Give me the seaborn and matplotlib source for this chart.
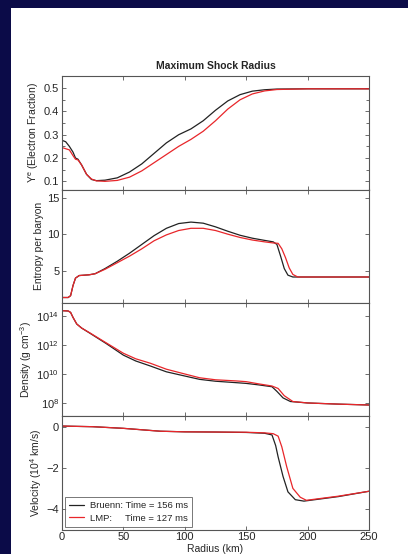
import numpy as np
import matplotlib
matplotlib.use("Agg")
import matplotlib.pyplot as plt
from matplotlib.patches import Rectangle
from matplotlib.ticker import MultipleLocator, NullLocator
import seaborn as sns

# ─── Data ───────────────────────────────────────────────────────────────────
# Electron fraction
ye_r_bruenn = [0, 3, 6, 9, 11, 13, 16, 20, 24, 28, 35, 45, 55, 65, 75, 85, 95,
               105, 115, 125, 135, 145, 155, 165, 175, 200, 250]
ye_bruenn = [0.276, 0.27, 0.25, 0.225, 0.2, 0.195, 0.17, 0.13, 0.108, 0.103,
             0.105, 0.115, 0.14, 0.175, 0.22, 0.265, 0.30, 0.325, 0.36, 0.405,
             0.445, 0.472, 0.487, 0.493, 0.496, 0.497, 0.497]
ye_r_lmp = [0, 3, 6, 9, 11, 13, 16, 20, 24, 28, 35, 45, 55, 65, 75, 85, 95,
            105, 115, 125, 135, 145, 155, 165, 175, 200, 250]
ye_lmp = [0.245, 0.24, 0.235, 0.21, 0.195, 0.192, 0.17, 0.13, 0.11, 0.102,
          0.10, 0.104, 0.118, 0.145, 0.18, 0.215, 0.25, 0.28, 0.315, 0.36,
          0.41, 0.45, 0.475, 0.488, 0.494, 0.497, 0.497]

# Entropy per baryon
s_r_bruenn = [0, 5, 7, 9, 11, 14, 18, 22, 27, 35, 45, 55, 65, 75, 85, 95, 105,
              115, 125, 135, 145, 155, 165, 172, 175, 178, 181, 184, 188, 200, 250]
s_bruenn = [1.35, 1.35, 1.6, 3.0, 4.0, 4.35, 4.4, 4.45, 4.6, 5.3, 6.3, 7.4, 8.6,
            9.8, 10.8, 11.45, 11.65, 11.5, 11.0, 10.4, 9.85, 9.45, 9.15, 8.95,
            8.6, 7.0, 5.3, 4.4, 4.15, 4.15, 4.15]
s_r_lmp = [0, 5, 7, 9, 11, 14, 18, 22, 27, 35, 45, 55, 65, 75, 85, 95, 105,
           115, 125, 135, 145, 155, 165, 172, 176, 179, 182, 185, 188, 192, 250]
s_lmp = [1.35, 1.35, 1.6, 3.0, 4.0, 4.35, 4.4, 4.45, 4.6, 5.2, 6.1, 7.0, 8.0,
         9.1, 9.9, 10.5, 10.8, 10.8, 10.5, 10.0, 9.55, 9.2, 8.95, 8.8, 8.75,
         8.0, 6.8, 5.4, 4.5, 4.15, 4.15]

# Density, log10(g cm^-3)
rho_r_bruenn = [0, 5, 7, 9, 12, 16, 23, 36, 50, 60, 72, 85, 100, 112, 125, 142,
                150, 160, 171, 175, 180, 186, 200, 225, 250]
logrho_bruenn = [14.37, 14.35, 14.25, 13.9, 13.45, 13.17, 12.8, 12.1, 11.3,
                 10.9, 10.55, 10.15, 9.86, 9.63, 9.5, 9.4, 9.35, 9.25, 9.12,
                 8.8, 8.35, 8.1, 8.0, 7.92, 7.86]
rho_r_lmp = [0, 5, 7, 9, 12, 16, 23, 36, 50, 60, 72, 85, 100, 112, 125, 142,
             150, 160, 171, 176, 181, 188, 200, 225, 250]
logrho_lmp = [14.37, 14.35, 14.25, 13.9, 13.45, 13.17, 12.82, 12.15, 11.43,
              11.05, 10.74, 10.33, 10.0, 9.74, 9.6, 9.52, 9.47, 9.32, 9.17,
              9.0, 8.5, 8.1, 8.0, 7.92, 7.86]

# Velocity, 10^4 km/s
v_r_bruenn = [0, 25, 50, 65, 80, 100, 125, 150, 165, 171, 174, 176, 180, 184,
              190, 197, 225, 250]
v_bruenn = [0.05, 0.02, -0.06, -0.13, -0.2, -0.23, -0.24, -0.26, -0.3, -0.38,
            -0.9, -1.45, -2.4, -3.15, -3.53, -3.6, -3.38, -3.12]
v_r_lmp = [0, 25, 50, 65, 80, 100, 125, 150, 165, 172, 176, 179, 183, 188,
           194, 199, 225, 250]
v_lmp = [0.05, 0.02, -0.06, -0.13, -0.2, -0.23, -0.24, -0.25, -0.28, -0.32,
         -0.44, -0.96, -1.93, -2.98, -3.41, -3.56, -3.36, -3.12]

x_ticks = [0, 50, 100, 150, 200, 250]
legend_labels = ["Bruenn: Time = 156 ms", "LMP:     Time = 127 ms"]

BLACK = "#222222"
RED = "#e8262a"

# ─── Style ──────────────────────────────────────────────────────────────────
sns.set_style("ticks")
plt.rcParams["font.family"] = ["Liberation Sans", "DejaVu Sans"]
plt.rcParams["mathtext.fontset"] = "custom"
plt.rcParams["mathtext.rm"] = "Liberation Sans"
plt.rcParams["mathtext.it"] = "Liberation Sans"

W, H = 408, 554
fig = plt.figure(figsize=(W / 100, H / 100), dpi=100, facecolor="#0b0b48")
fig.patches.append(Rectangle((11 / W, 0), 1 - 11 / W, 1 - 8 / H,
                             transform=fig.transFigure, facecolor="white",
                             edgecolor="none", zorder=-10))

left, width = 62 / W, (369 - 62) / W
tops = [76, 189.5, 303, 416, 529.5]
axes = []
for i in range(4):
    b = 1 - tops[i + 1] / H
    h = (tops[i + 1] - tops[i]) / H
    axes.append(fig.add_axes([left, b, width, h]))

series = [
    (ye_r_bruenn, ye_bruenn, ye_r_lmp, ye_lmp),
    (s_r_bruenn, s_bruenn, s_r_lmp, s_lmp),
    (rho_r_bruenn, 10 ** np.array(logrho_bruenn), rho_r_lmp, 10 ** np.array(logrho_lmp)),
    (v_r_bruenn, v_bruenn, v_r_lmp, v_lmp),
]
for ax, (xb, yb, xl, yl) in zip(axes, series):
    sns.lineplot(x=xb, y=yb, ax=ax, color=BLACK, lw=0.9, estimator=None,
                 sort=False, label=legend_labels[0])
    sns.lineplot(x=xl, y=yl, ax=ax, color=RED, lw=0.9, estimator=None,
                 sort=False, label=legend_labels[1])

# panel limits / ticks
axes[0].set_ylim(0.065, 0.552)
axes[0].set_yticks([0.1, 0.2, 0.3, 0.4, 0.5])
axes[0].set_yticklabels(["0.1", "0.2", "0.3", "0.4", "0.5"])
axes[0].yaxis.set_minor_locator(MultipleLocator(0.05))
axes[0].set_ylabel("Y$^e$ (Electron Fraction)")

axes[1].set_ylim(0.6, 16.1)
axes[1].set_yticks([5, 10, 15])
axes[1].set_ylabel("Entropy per baryon")

axes[2].set_yscale("log")
axes[2].set_ylim(10 ** 7.1, 10 ** 14.9)
axes[2].set_yticks([1e8, 1e10, 1e12, 1e14])
axes[2].yaxis.set_minor_locator(NullLocator())
axes[2].set_ylabel("Density (g cm$^{-3}$)")

axes[3].set_ylim(-4.98, 0.54)
axes[3].set_yticks([-4, -2, 0])
axes[3].set_ylabel("Velocity (10$^4$ km/s)")

for i, ax in enumerate(axes):
    ax.set_xlim(0, 250)
    ax.set_xticks(x_ticks)
    ax.tick_params(axis="both", which="both", direction="in", top=True,
                   right=True, labelsize=8, color="#555555", length=3,
                   width=0.6, pad=2)
    ax.tick_params(axis="y", which="minor", length=2)
    for sp in ax.spines.values():
        sp.set_color("#555555")
        sp.set_linewidth(0.8)
    ax.yaxis.label.set_size(7.5)
    ax.yaxis.labelpad = 2
    if i < 3:
        ax.set_xticklabels([])
        ax.get_legend().remove()
    else:
        ax.set_xticklabels([str(t) for t in x_ticks])
        ax.set_xlabel("Radius (km)", fontsize=7.5, labelpad=1)
        leg = ax.legend(loc="lower left", fontsize=6.8, frameon=True,
                        fancybox=False, edgecolor="#555555", handlelength=1.6,
                        handletextpad=0.6, borderpad=0.45, labelspacing=0.4,
                        borderaxespad=0, bbox_to_anchor=(0.01, 0.022))
        leg.get_frame().set_linewidth(0.7)

fig.align_ylabels(axes)
axes[0].set_title("Maximum Shock Radius", fontsize=7.5, fontweight="bold", pad=5)

fig.savefig("out.png", dpi=100, facecolor=fig.get_facecolor())
